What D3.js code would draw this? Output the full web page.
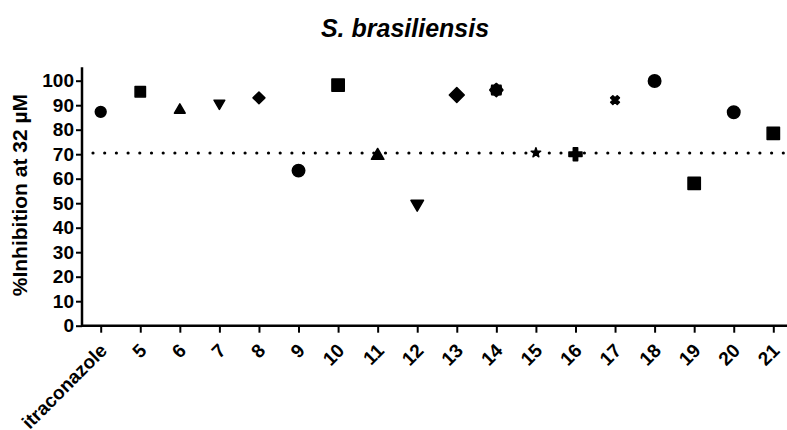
<!DOCTYPE html>
<html>
<head>
<meta charset="utf-8">
<script src="https://cdn.jsdelivr.net/npm/d3@7"></script>
<style>
  body { margin: 0; background: #fff; }
  svg { display: block; font-family: "Liberation Sans", Arial, sans-serif; }
</style>
</head>
<body>
<svg id="chart" width="787" height="430"></svg>
<script>
// data
const categories = ["itraconazole", "5", "6", "7", "8", "9", "10", "11", "12", "13", "14", "15", "16", "17", "18", "19", "20", "21"];
const inhibition = [87.3, 95.5, 88, 90.8, 93, 63.3, 98.2, 69.4, 49.7, 94.2, 96.2, 70.6, 70, 92.1, 99.9, 58.1, 87.1, 78.5];
const yTicks = [0, 10, 20, 30, 40, 50, 60, 70, 80, 90, 100];
const threshold = [70.5];

// marker shape + area per point (style only)
const markerShapes = ["circle", "square", "triangle", "triangleDown", "diamond", "circle", "square", "triangle", "triangleDown", "diamond", "flower", "star", "plus", "cross", "circle", "square", "circle", "square"];
const markerSizes = [92, 108, 50, 50, 70, 122, 152, 68, 68, 112, 0, 28, 95, 48, 122, 152, 122, 152];

const width = 787, height = 430;
const svg = d3.select("#chart");

const x = d3.scalePoint().domain(categories).range([100.7, 773.3]);
const y = d3.scaleLinear().domain([0, 100]).range([325.7, 80.7]);

// custom symbol types
const diamond = {
    draw(ctx, size) {
        const d = Math.sqrt(size / 2);
        ctx.moveTo(0, -d); ctx.lineTo(d, 0); ctx.lineTo(0, d); ctx.lineTo(-d, 0); ctx.closePath();
    }
};
const triangleDown = {
    draw(ctx, size) {
        const s = Math.sqrt(size / 0.433), h = s * 0.866;
        ctx.moveTo(-s / 2, -h / 3); ctx.lineTo(s / 2, -h / 3); ctx.lineTo(0, 2 * h / 3); ctx.closePath();
    }
};
const flower = {
    draw(ctx) {
        for (let i = 0; i < 16; i++) {
            const r = i % 2 ? 5.4 : 6.6, a = i * Math.PI / 8;
            if (i) ctx.lineTo(r * Math.sin(a), -r * Math.cos(a));
            else ctx.moveTo(r * Math.sin(a), -r * Math.cos(a));
        }
        ctx.closePath();
    }
};
const symbolTypes = {
    circle: d3.symbolCircle, square: d3.symbolSquare, triangle: d3.symbolTriangle,
    triangleDown: triangleDown, diamond: diamond, flower: flower,
    star: d3.symbolStar, plus: d3.symbolCross, cross: d3.symbolCross
};

// title
svg.append("text")
    .attr("x", 405).attr("y", 37)
    .attr("text-anchor", "middle")
    .style("font-size", "25px").style("font-weight", "bold").style("font-style", "italic")
    .text("S. brasiliensis");

// y axis
const yAxis = svg.append("g")
    .attr("transform", "translate(82,0)")
    .call(d3.axisLeft(y).tickValues(yTicks).tickSize(6).tickPadding(2).tickSizeOuter(0));
yAxis.select(".domain").remove();
yAxis.append("line")
    .attr("x1", 0).attr("x2", 0).attr("y1", y(0)).attr("y2", y(105.5))
    .attr("stroke", "#000").attr("stroke-width", 2.5);
yAxis.selectAll(".tick line").attr("stroke-width", 2);
yAxis.selectAll(".tick text")
    .attr("fill", "#000")
    .style("font-size", "19px").style("font-weight", "bold");

svg.append("text")
    .attr("transform", `translate(27,${(y(0) + y(105)) / 2 - 2}) rotate(-90)`)
    .attr("text-anchor", "middle")
    .style("font-size", "21px").style("font-weight", "bold")
    .text("%Inhibition at 32 \u00b5M");

// x axis
const xAxis = svg.append("g")
    .attr("transform", `translate(0,${y(0)})`)
    .call(d3.axisBottom(x).tickSize(7).tickSizeOuter(0));
xAxis.select(".domain").remove();
xAxis.append("line")
    .attr("x1", 81).attr("x2", width).attr("y1", 0).attr("y2", 0)
    .attr("stroke", "#000").attr("stroke-width", 2.5);
xAxis.selectAll(".tick line").attr("stroke-width", 2);
xAxis.selectAll(".tick text")
    .attr("fill", "#000")
    .attr("text-anchor", "end")
    .attr("x", null).attr("y", null).attr("dy", null)
    .attr("transform", "translate(7,26) rotate(-45)")
    .style("font-size", "19px").style("font-weight", "bold");

// dotted threshold line
svg.selectAll(".threshold")
    .data(threshold)
    .join("line")
    .attr("class", "threshold")
    .attr("x1", 93).attr("x2", width)
    .attr("y1", d => y(d)).attr("y2", d => y(d))
    .attr("stroke", "#000").attr("stroke-width", 3.2)
    .attr("stroke-linecap", "round")
    .attr("stroke-dasharray", "0 11.7");

// markers
svg.append("g")
    .selectAll("path")
    .data(inhibition)
    .join("path")
    .attr("transform", (d, i) => `translate(${x(categories[i])},${y(d)})` + (markerShapes[i] === "cross" ? " rotate(45)" : ""))
    .attr("d", (d, i) => d3.symbol().type(symbolTypes[markerShapes[i]]).size(markerSizes[i])())
    .attr("fill", "#000")
    .attr("stroke", "#000")
    .attr("stroke-width", 1.5)
    .attr("stroke-linejoin", "round");
</script>
</body>
</html>
